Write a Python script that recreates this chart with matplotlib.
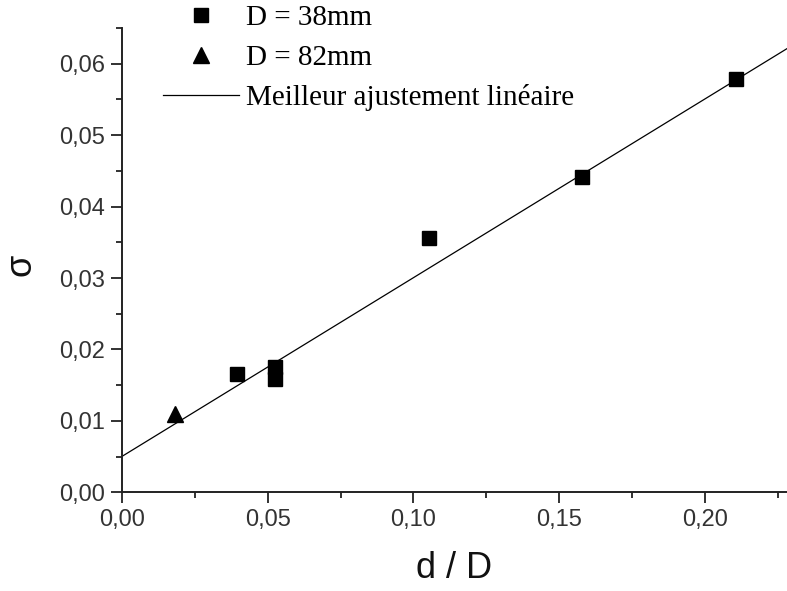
import numpy as np
import matplotlib

matplotlib.use("Agg")
import matplotlib.pyplot as plt

# data
x_38 = [0.0395, 0.0526, 0.0526, 0.1053, 0.1579, 0.2105]
y_38 = [0.0166, 0.0176, 0.0158, 0.0356, 0.0441, 0.0578]
x_82 = [0.0183]
y_82 = [0.0110]
fit_intercept = 0.0050
fit_slope = 0.2505

labels = ["D = 38mm", "D = 82mm", "Meilleur ajustement linéaire"]
xticks = [0.00, 0.05, 0.10, 0.15, 0.20]
yticks = [0.00, 0.01, 0.02, 0.03, 0.04, 0.05, 0.06]

fig = plt.figure(figsize=(7.87, 5.91), dpi=100)
ax = fig.add_axes([0.1546, 0.167, 0.8454, 0.7856])

ax.plot(x_38, y_38, "s", color="black", ms=10.5, label=labels[0], zorder=3)
ax.plot(x_82, y_82, "^", color="black", ms=11.5, label=labels[1], zorder=3)
xfit = np.array([0.0, 0.228])
ax.plot(xfit, fit_intercept + fit_slope * xfit, "-", color="black", lw=0.9, label=labels[2])

ax.set_xlim(0, 0.228)
ax.set_ylim(0, 0.065)

for side in ("top", "right"):
    ax.spines[side].set_visible(False)
for side in ("left", "bottom"):
    ax.spines[side].set_linewidth(1.4)
    ax.spines[side].set_color("#222222")

ax.set_xticks(xticks)
ax.set_yticks(yticks)
ax.set_xticks(np.arange(0.025, 0.23, 0.05), minor=True)
ax.set_yticks(np.arange(0.005, 0.066, 0.01), minor=True)
ax.set_xticklabels([f"{v:.2f}".replace(".", ",") for v in xticks])
ax.set_yticklabels([f"{v:.2f}".replace(".", ",") for v in yticks])

for lab in ax.get_xticklabels() + ax.get_yticklabels():
    lab.set_fontfamily("Liberation Sans")
    lab.set_fontsize(17)
    lab.set_color("#333333")
ax.tick_params(which="major", direction="out", length=8, width=1.3, color="#222222", pad=4)
ax.tick_params(which="minor", direction="out", length=4, width=1.3, color="#222222")

ax.set_xlabel("d / D", family="Liberation Sans", fontsize=26, color="#111111")
ax.set_ylabel("σ", family="Liberation Sans", fontsize=26, color="#111111")
ax.xaxis.set_label_coords(0.5, -0.126)
ax.yaxis.set_label_coords(-0.125, 0.49)

leg = ax.legend(loc="upper left", bbox_to_anchor=(163 / 787, 1 - 5 / 591),
                bbox_transform=fig.transFigure, frameon=False, numpoints=1,
                borderpad=0, borderaxespad=0, handlelength=2.6, handletextpad=0.25,
                labelspacing=0.45, prop={"family": "Liberation Serif", "size": 21})

fig.savefig("out.png", dpi=100, facecolor="white")
